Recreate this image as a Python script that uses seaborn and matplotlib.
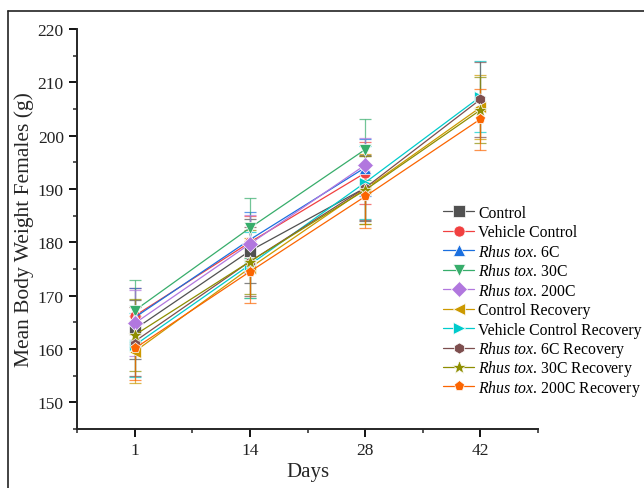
import numpy as np
import pandas as pd
import matplotlib
matplotlib.use("Agg")
import matplotlib.pyplot as plt
from matplotlib.lines import Line2D
from matplotlib.ticker import MultipleLocator
from matplotlib.transforms import IdentityTransform
import seaborn as sns

# values (mean body weight, g, and SD)
days = [1, 14, 28, 42]
groups = ["Control", "Vehicle Control", "Rhus tox. 6C", "Rhus tox. 30C", "Rhus tox. 200C",
          "Control Recovery", "Vehicle Control Recovery", "Rhus tox. 6C Recovery",
          "Rhus tox. 30C Recovery", "Rhus tox. 200C Recovery"]
means = {
    "Control":                  [163.7, 178.4, 190.2],
    "Vehicle Control":          [166.2, 180.0, 193.0],
    "Rhus tox. 6C":             [165.9, 180.5, 194.0],
    "Rhus tox. 30C":            [167.2, 182.7, 197.4],
    "Rhus tox. 200C":           [164.8, 179.7, 194.5],
    "Control Recovery":         [159.5, 175.2, 190.0, 205.3],
    "Vehicle Control Recovery": [160.7, 175.8, 191.2, 207.3],
    "Rhus tox. 6C Recovery":    [161.4, 176.4, 190.2, 206.8],
    "Rhus tox. 30C Recovery":   [162.6, 176.4, 189.8, 204.8],
    "Rhus tox. 200C Recovery":  [160.1, 174.5, 188.6, 203.1],
}
sds = {
    "Control":                  [5.5, 6.0, 6.2],
    "Vehicle Control":          [5.2, 5.0, 5.8],
    "Rhus tox. 6C":             [5.6, 5.2, 5.4],
    "Rhus tox. 30C":            [5.8, 5.7, 5.8],
    "Rhus tox. 200C":           [6.2, 5.5, 5.0],
    "Control Recovery":         [5.8, 5.6, 6.5, 6.0],
    "Vehicle Control Recovery": [6.0, 6.2, 6.8, 6.7],
    "Rhus tox. 6C Recovery":    [6.5, 6.4, 6.0, 7.0],
    "Rhus tox. 30C Recovery":   [6.8, 6.0, 6.3, 6.2],
    "Rhus tox. 200C Recovery":  [6.0, 5.8, 5.9, 5.7],
}
colors = ["#515151", "#F14040", "#1A6FDF", "#37AD6B", "#B177DE",
          "#CC9900", "#00CBCC", "#7D4E4E", "#8E8E00", "#FB6501"]
markers = ["s", "o", "^", "v", "D", "<", ">", "h", "*", "p"]
legend_labels = ["Control", "Vehicle Control", r"$\it{Rhus\ tox}$. 6C", r"$\it{Rhus\ tox}$. 30C",
                 r"$\it{Rhus\ tox}$. 200C", "Control Recovery", "Vehicle Control Recovery",
                 r"$\it{Rhus\ tox}$. 6C Recovery", r"$\it{Rhus\ tox}$. 30C Recovery",
                 r"$\it{Rhus\ tox}$. 200C Recovery"]

rows = []
for g in groups:
    for i, (m, s) in enumerate(zip(means[g], sds[g])):
        rows.append({"group": g, "day": days[i], "pos": i + 1, "mean": m, "sd": s})
df = pd.DataFrame(rows)

sns.set_style("ticks")
plt.rcParams["font.family"] = ["Liberation Serif", "DejaVu Serif"]
plt.rcParams["mathtext.fontset"] = "custom"
plt.rcParams["mathtext.it"] = "Liberation Serif:italic"
plt.rcParams["mathtext.rm"] = "Liberation Serif"

fig = plt.figure(figsize=(6.44, 4.89), dpi=100)
ax = fig.add_axes([77 / 644, 1 - 430 / 489, (538 - 77) / 644, (430 - 30) / 489])

palette = dict(zip(groups, colors))
mk = dict(zip(groups, markers))

# error bars first so markers sit on top
for g in groups:
    sub = df[df.group == g]
    ax.errorbar(sub["pos"], sub["mean"], yerr=sub["sd"], fmt="none", ecolor=palette[g],
                elinewidth=0.9, capsize=4, capthick=0.9, alpha=0.7, zorder=2)

sns.lineplot(data=df, x="pos", y="mean", hue="group", style="group", hue_order=groups,
             style_order=groups, palette=palette, markers=mk, dashes=False, linewidth=0.9,
             markersize=8, markeredgewidth=0.5, ax=ax, legend=True, zorder=3)

for line in ax.lines:
    if line.get_marker() == "*":
        line.set_markersize(10)

handles, labels = ax.get_legend_handles_labels()
hmap = dict(zip(labels, handles))
# blank labels keep the rows evenly spaced; the mixed-style text is placed on their baselines
leg = ax.legend([hmap[g] for g in groups], [" "] * len(groups), loc="upper left",
                bbox_to_anchor=(435 / 644, 1 - 198 / 489), bbox_transform=fig.transFigure,
                frameon=False, fontsize=11.3, handlelength=2.0, handletextpad=0.25,
                labelspacing=0.22, borderpad=0)
for h in leg.legend_handles:
    h.set_linewidth(0.9)
    if h.get_marker() == "*":
        h.set_markersize(10)

ax.set_xlim(0.5, 4.5)
ax.set_ylim(145, 220)
ax.set_xticks(range(1, len(days) + 1))
ax.set_xticklabels([str(d) for d in days])
ax.xaxis.set_minor_locator(MultipleLocator(0.5))
ax.set_yticks(np.arange(150, 221, 10))
ax.yaxis.set_minor_locator(MultipleLocator(5))
ax.tick_params(which="major", length=6, width=1.3, labelsize=12.5, color="black", labelcolor="#222222")
ax.tick_params(which="minor", length=3, width=1.1)
for side in ["top", "right"]:
    ax.spines[side].set_visible(False)
for side in ["left", "bottom"]:
    ax.spines[side].set_linewidth(1.4)
ax.set_xlabel("Days", fontsize=15, labelpad=3)
ax.set_ylabel("Mean Body Weight Females (g)", fontsize=15.5, labelpad=3)

# screenshot border (top and left)
fig.add_artist(Line2D([8 / 644, 1], [1 - 12 / 489, 1 - 12 / 489], transform=fig.transFigure,
                      color="#222222", linewidth=1.2))
fig.add_artist(Line2D([8 / 644, 8 / 644], [0, 1 - 12 / 489], transform=fig.transFigure,
                      color="#222222", linewidth=1.2))

fig.canvas.draw()
for t, lab in zip(leg.get_texts(), legend_labels):
    x, y = t.get_transform().transform(t.get_position())
    fig.text(x, y, lab, transform=IdentityTransform(), ha="left", va="baseline",
             fontsize=11.3, color="black")

fig.savefig("out.png", dpi=100)
